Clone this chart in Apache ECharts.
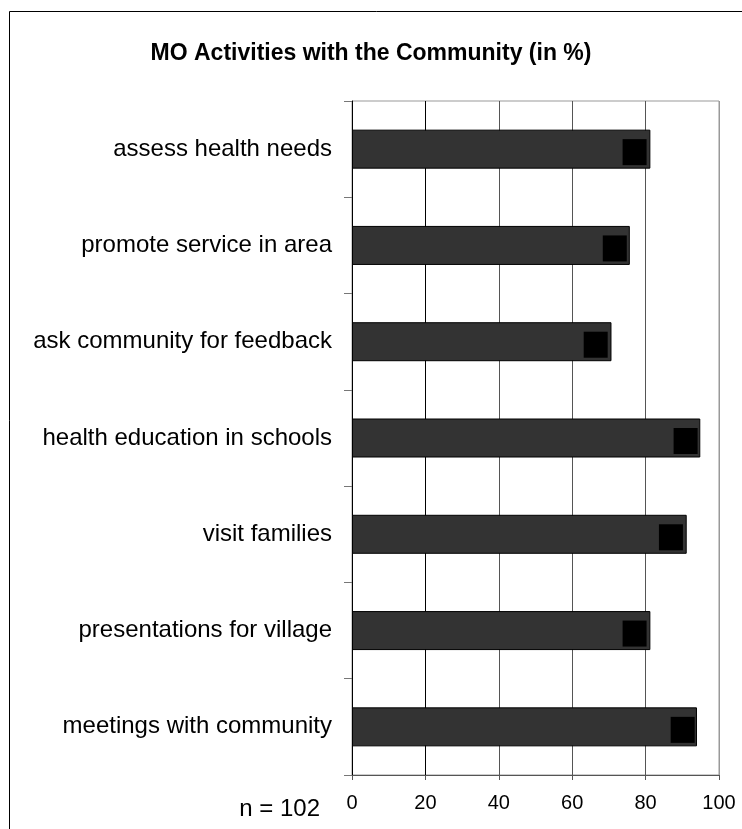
<!DOCTYPE html>
<html>
<head>
<meta charset="utf-8">
<script src="https://cdn.jsdelivr.net/npm/echarts@6/dist/echarts.min.js"></script>
<style>
  html, body { margin: 0; padding: 0; background: #fff; }
  #chart { width: 742px; height: 829px; }
</style>
</head>
<body>
<div id="chart"></div>
<script>
// Activities (top to bottom)
const categories = [
  'assess health needs',
  'promote service in area',
  'ask community for feedback',
  'health education in schools',
  'visit families',
  'presentations for village',
  'meetings with community'
];
// Share of MOs doing each activity (%)
const barValues = [81.3, 75.7, 70.7, 94.9, 91.2, 81.3, 94.0];
// Square marker values (%)
const markerValues = [77.0, 71.6, 66.4, 90.9, 86.9, 77.0, 90.1];
// Value axis ticks
const xTicks = [0, 20, 40, 60, 80, 100];
const sampleNote = 'n = 102';
const chartTitle = 'MO Activities with the Community (in %)';

const FONT = '"Liberation Sans", Arial, Helvetica, sans-serif';

const chart = echarts.init(document.getElementById('chart'), null, { renderer: 'canvas' });

chart.setOption({
  animation: false,
  backgroundColor: '#ffffff',
  title: {
    text: chartTitle,
    left: 'center',
    top: 37,
    textStyle: { fontFamily: FONT, fontSize: 23, fontWeight: 'bold', color: '#000' }
  },
  grid: {
    left: 352, right: 23, top: 101, bottom: 54,
    show: true, borderColor: '#999', borderWidth: 1, backgroundColor: 'transparent'
  },
  xAxis: {
    type: 'value',
    min: xTicks[0],
    max: xTicks[xTicks.length - 1],
    interval: xTicks[1] - xTicks[0],
    axisLine: { show: true, lineStyle: { color: '#555', width: 1 } },
    axisTick: { show: true, length: 5, lineStyle: { color: '#555' } },
    axisLabel: { fontFamily: FONT, fontSize: 20, color: '#000', margin: 18 },
    splitLine: {
      show: true,
      lineStyle: { color: ['#000', '#000', '#555', '#555', '#555', '#999'], width: 1 }
    }
  },
  yAxis: {
    type: 'category',
    data: categories,
    inverse: true,
    axisLine: { show: true, lineStyle: { color: '#000', width: 1 } },
    axisTick: { show: true, length: 8, alignWithLabel: false, lineStyle: { color: '#777' } },
    axisLabel: { fontFamily: FONT, fontSize: 24, color: '#000', margin: 20 },
    splitLine: { show: false }
  },
  series: [
    {
      type: 'bar',
      data: barValues,
      barWidth: 39,
      itemStyle: { color: '#333333', borderColor: '#000', borderWidth: 1 },
      z: 2
    },
    {
      type: 'scatter',
      data: markerValues,
      symbol: 'rect',
      symbolSize: [24, 26],
      symbolOffset: [0, 3],
      itemStyle: { color: '#000', opacity: 1 },
      z: 3
    }
  ],
  graphic: [
    {
      type: 'rect',
      shape: { x: 9.5, y: 11.5, width: 800, height: 900 },
      style: { fill: 'none', stroke: '#000', lineWidth: 1 },
      silent: true,
      z: -1
    },
    {
      type: 'text',
      right: 742 - 320,
      top: 797,
      style: { text: sampleNote, fontFamily: FONT, fontSize: 24, fill: '#000' }
    }
  ]
});
</script>
</body>
</html>
